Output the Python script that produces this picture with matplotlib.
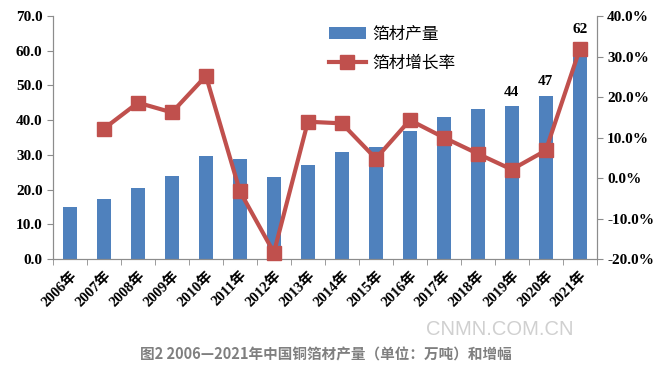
import numpy as np
import matplotlib.pyplot as plt
from matplotlib.ticker import FuncFormatter, MultipleLocator

plt.rcParams['font.family'] = ['Liberation Serif', 'Noto Sans CJK SC']

# ---données---
years = ['2006年', '2007年', '2008年', '2009年', '2010年', '2011年', '2012年', '2013年',
         '2014年', '2015年', '2016年', '2017年', '2018年', '2019年', '2020年', '2021年']
production = [15.1, 17.2, 20.4, 23.8, 29.8, 28.9, 23.6, 27.0,
              30.7, 32.2, 37.0, 40.8, 43.1, 44.0, 47.0, 62.0]
growth = [np.nan, 12.2, 18.6, 16.2, 25.2, -3.3, -18.4, 13.9,
          13.5, 4.8, 14.3, 10.0, 6.0, 2.1, 6.8, 31.8]
labelled = {13: '44', 14: '47', 15: '62'}

blue = '#4F81BD'
red = '#C0504D'
grey = '#8C8C8C'

fig = plt.figure(figsize=(6.66, 3.69), dpi=100)
ax = fig.add_axes([0.0796, 0.298, 0.8164, 0.6586])
ax2 = ax.twinx()

x = np.arange(len(years))
bars = ax.bar(x, production, width=0.42, color=blue, label='箔材产量', zorder=2)
ax2.plot(x, growth, color=red, lw=3, marker='s', ms=9.5, label='箔材增长率',
         clip_on=False, zorder=3)

for i, txt in labelled.items():
    ax.text(x[i], production[i] + 2.2, txt, ha='center', va='bottom',
            fontsize=11, fontweight='bold')

ax.set_xlim(-0.5, 15.5)
ax.set_ylim(0, 70)
ax2.set_ylim(-20, 40)
ax.yaxis.set_major_locator(MultipleLocator(10))
ax2.yaxis.set_major_locator(MultipleLocator(10))
ax.yaxis.set_major_formatter(FuncFormatter(lambda v, p: f'{v:.1f}'))
ax2.yaxis.set_major_formatter(FuncFormatter(lambda v, p: f'{v:.1f}%'))

ax.set_xticks(x)
ax.set_xticklabels(years, rotation=45, ha='right', rotation_mode='anchor',
                   fontsize=10.5, fontweight='bold')
ax.set_xticks(np.arange(-0.5, 16, 1), minor=True)
ax.tick_params(axis='x', which='major', length=0, pad=7)
ax.tick_params(axis='x', which='minor', length=4, color=grey)
ax.tick_params(axis='y', length=4, color=grey, labelsize=11)
ax2.tick_params(axis='y', length=4, color=grey, labelsize=11)
for lab in ax.get_yticklabels() + ax2.get_yticklabels():
    lab.set_fontweight('bold')

for a in (ax, ax2):
    a.spines['top'].set_visible(False)
    for s in ('left', 'right', 'bottom'):
        a.spines[s].set_color(grey)
ax2.set_zorder(ax.get_zorder() + 1)

h1, l1 = ax.get_legend_handles_labels()
h2, l2 = ax2.get_legend_handles_labels()
ax2.legend(h1 + h2, l1 + l2, loc='upper left', bbox_to_anchor=(0.48, 1.02),
           frameon=False, handlelength=2.2, handletextpad=0.4,
           labelspacing=0.7, prop={'family': ['Noto Sans CJK SC'], 'size': 12})

fig.text(0.75, 0.106, 'CNMN.COM.CN', ha='center', va='center', fontsize=14.5,
         color='#D0D0D0', family=['Liberation Sans'])
fig.text(0.49, 0.04, '图2 2006—2021年中国铜箔材产量（单位：万吨）和增幅', ha='center',
         va='center', fontsize=10.5, color='#7F7F7F', fontweight='bold',
         family=['Noto Sans CJK SC'])

plt.savefig('out.png', dpi=100)
